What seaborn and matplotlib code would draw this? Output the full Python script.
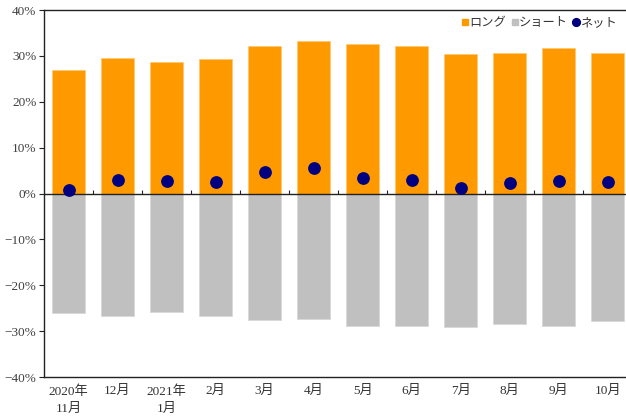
import numpy as np
import pandas as pd
import matplotlib
matplotlib.use("Agg")
import matplotlib.pyplot as plt
from matplotlib.lines import Line2D
from matplotlib.ticker import FuncFormatter, NullLocator
import seaborn as sns

months = ["2020年\n11月", "12月", "2021年\n1月", "2月", "3月", "4月",
          "5月", "6月", "7月", "8月", "9月", "10月"]
long_vals = [27.0, 29.6, 28.6, 29.3, 32.2, 33.2, 32.5, 32.2, 30.4, 30.7, 31.7, 30.7]
short_vals = [-26.1, -26.6, -25.8, -26.6, -27.6, -27.3, -28.9, -28.9, -29.1, -28.4, -28.9, -27.9]
net_vals = [0.7, 3.0, 2.8, 2.5, 4.6, 5.6, 3.3, 3.0, 1.2, 2.3, 2.8, 2.5]
series_names = ["ロング", "ショート", "ネット"]
y_ticks = [-40, -30, -20, -10, 0, 10, 20, 30, 40]

sns.set_style("ticks")
plt.rcParams["font.family"] = ["Liberation Serif", "Noto Sans CJK JP"]

df = pd.DataFrame({"month": months, "long": long_vals,
                   "short": short_vals, "net": net_vals})

fig = plt.figure(figsize=(6.26, 4.17), dpi=100)
ax = fig.add_axes([44 / 626, 40 / 417, 1 - 44 / 626, 367 / 417])

ORANGE = "#FF9900"
GRAY = "#C0C0C0"
NAVY = "#000080"
LINE = "#222222"

sns.barplot(data=df, x="month", y="long", order=months, color=ORANGE,
            width=0.67, saturation=1, edgecolor="#FFC870", linewidth=0.6,
            errorbar=None, ax=ax)
sns.barplot(data=df, x="month", y="short", order=months, color=GRAY,
            width=0.67, saturation=1, edgecolor="#D8D8D8", linewidth=0.6,
            errorbar=None, ax=ax)
sns.stripplot(data=df, x="month", y="net", order=months, color=NAVY,
              jitter=False, size=9.2, linewidth=0, ax=ax, zorder=5)

ax.set_xlim(-0.5, 11.37)
ax.set_ylim(-40, 40)
ax.set_yticks(y_ticks)
ax.yaxis.set_major_formatter(FuncFormatter(
    lambda v, p: ("\u2212" if v < 0 else "") + f"{abs(int(v))}%"))
ax.xaxis.set_minor_locator(NullLocator())
ax.yaxis.set_minor_locator(NullLocator())
ax.set_xlabel("")
ax.set_ylabel("")

for s in ["top", "left", "bottom"]:
    ax.spines[s].set_visible(True)
    ax.spines[s].set_color(LINE)
    ax.spines[s].set_linewidth(1.0)
ax.spines["right"].set_visible(False)

ax.tick_params(axis="y", direction="out", length=3.5, width=0.8,
               labelsize=9.5, labelcolor="#404040", color=LINE, pad=2)
ax.tick_params(axis="x", which="both", length=0, bottom=False, top=False,
               labelsize=9.5, labelcolor="#333333", pad=6)
for lab in ax.get_xticklabels():
    lab.set_linespacing(1.6)
    lab.set_verticalalignment("top")

# zero line with small upward ticks at category boundaries
ax.axhline(0, color=LINE, linewidth=1.0, zorder=4)
ax.vlines(np.arange(0.5, len(months) - 0.5, 1.0), 0, 0.7,
          color=LINE, linewidth=0.8, zorder=4)

handles = [
    Line2D([], [], marker="s", linestyle="none", color=ORANGE, markersize=4.6),
    Line2D([], [], marker="s", linestyle="none", color=GRAY, markersize=4.6),
    Line2D([], [], marker="o", linestyle="none", color=NAVY, markersize=5.6),
]
leg = ax.legend(handles, series_names, loc="upper right", ncol=3,
                frameon=False, bbox_to_anchor=(1.0, 1.006),
                handletextpad=0.08, columnspacing=0.4, handlelength=0.55,
                borderaxespad=0.3, prop={"family": ["Noto Sans CJK JP"], "size": 8.8})
for t in leg.get_texts():
    t.set_color("#333333")

fig.savefig("out.png", dpi=100)
